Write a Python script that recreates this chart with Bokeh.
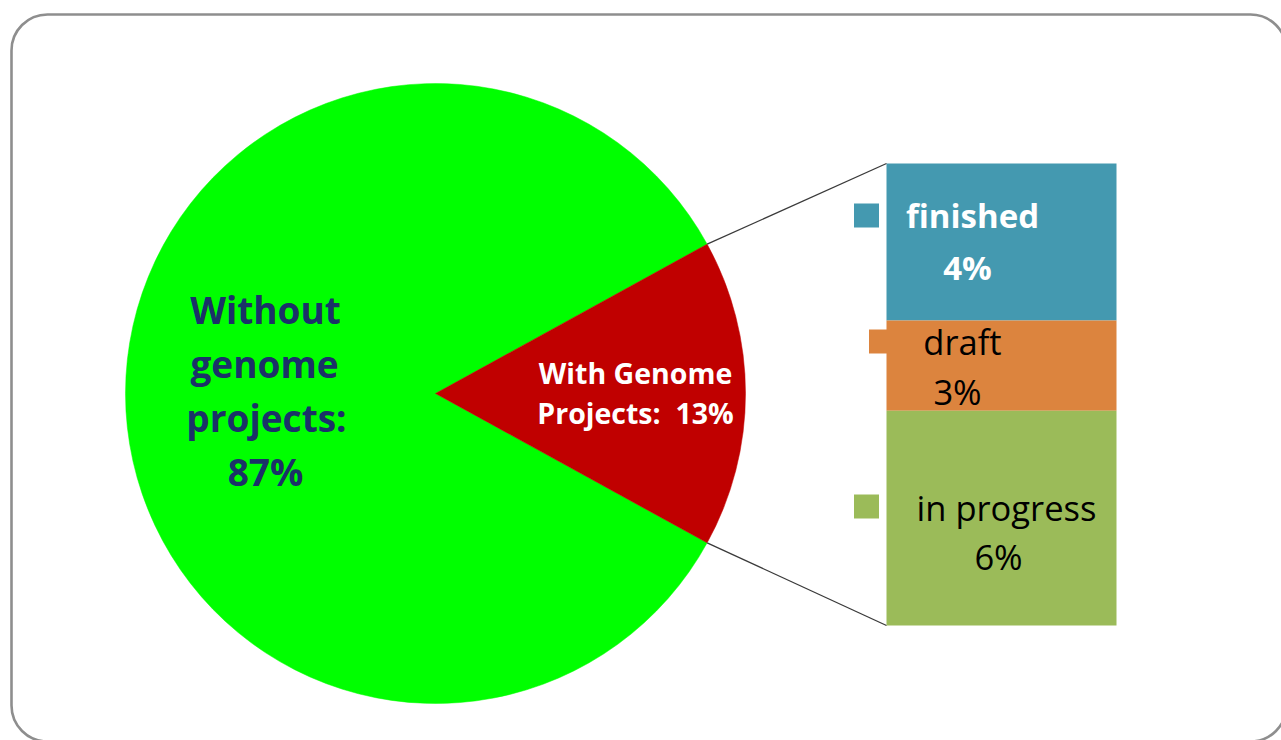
import math
from bokeh.plotting import figure
from bokeh.models import Range1d, ColumnDataSource, BoxAnnotation
from bokeh.core.properties import value
from bokeh.embed import file_html
from bokeh.resources import INLINE

# ---------------- data ----------------
pie_names = ["Without genome projects", "With Genome Projects"]
pie_share = [84, 16]                 # slice sizes as drawn
pie_colors = ["#00FF00", "#C00000"]
without_lines = ["Without", "genome", "projects:", "87%"]
with_lines = ["With Genome", "Projects:\u00a0\u00a013%"]

bar_names = ["finished", "draft", "in progress"]
bar_share = [34, 19.5, 46.5]         # share of the bar as drawn (top to bottom)
bar_pct = ["4%", "3%", "6%"]
bar_colors = ["#4499B0", "#DC843E", "#9BBB59"]

# ---------------- layout ----------------
W, H = 1281, 740
cx, cy, R = 435, 347, 310
bar_x, bar_w = 1001, 230
bar_px_bottom, bar_px_top = 115, 577

p = figure(width=W, height=H, x_range=Range1d(0, W), y_range=Range1d(0, H),
           output_backend="svg", toolbar_location=None, min_border=0,
           x_axis_location=None, y_axis_location=None,
           outline_line_color=None, background_fill_color="white",
           border_fill_color="white")
p.grid.visible = False

# outer rounded frame
p.add_layout(BoxAnnotation(left=11, right=1286, top=726, bottom=-1,
                           fill_alpha=0, line_color="#8e8e8e", line_alpha=1,
                           line_width=2.6, border_radius=36))

# ---------------- pie ----------------
total = float(sum(pie_share))
half = math.pi * pie_share[1] / total
starts = [half, -half]
ends = [2 * math.pi - half, half]
pie_src = ColumnDataSource(dict(name=pie_names, start=starts, end=ends, color=pie_colors))
p.wedge(x=cx, y=cy, radius=R, start_angle="start", end_angle="end",
        fill_color="color", line_color="color", line_width=0.5, source=pie_src)

# ---------------- bar ----------------
span = 100.0 / (bar_px_top - bar_px_bottom)
p.extra_y_ranges = {"bar": Range1d(-bar_px_bottom * span, (H - bar_px_bottom) * span)}
tops, bottoms = [], []
acc = 100.0
for s in bar_share:
    tops.append(acc)
    acc -= s
    bottoms.append(acc)

# legend keys (drawn behind the bar)
key_x = [866, 881, 866]
key_y = [525, 399, 234]
p.rect(x=key_x, y=key_y, width=25, height=24, fill_color=bar_colors, line_color=None)

bar_src = ColumnDataSource(dict(name=bar_names, top=tops, bottom=bottoms, color=bar_colors))
p.vbar(x=bar_x, width=bar_w, top="top", bottom="bottom", fill_color="color",
       line_color=None, y_range_name="bar", source=bar_src)

# connector lines from slice edges to bar corners
ex = cx + R * math.cos(half)
ey_up = cy + R * math.sin(half)
ey_dn = cy - R * math.sin(half)
bl = bar_x - bar_w / 2
p.segment(x0=[ex, ex], y0=[ey_up, ey_dn], x1=[bl, bl], y1=[bar_px_top, bar_px_bottom],
          line_color="#3a3a3a", line_width=1.3)

# ---------------- labels ----------------
FONT = value("Open Sans")
p.text(x=[265, 264, 266, 265], y=[431, 377, 323, 269], text=without_lines,
       text_font=FONT, text_font_style="bold", text_font_size="37px",
       text_color="#1B3168", text_align="center", text_baseline="alphabetic")
p.text(x=[635, 635], y=[368, 328], text=with_lines,
       text_font=FONT, text_font_style="bold", text_font_size="28.5px",
       text_color="white", text_align="center", text_baseline="alphabetic")

p.text(x=[972, 967], y=[525, 473], text=[bar_names[0], bar_pct[0]],
       text_font=FONT, text_font_style="bold", text_font_size="33px",
       text_color="white", text_align="center", text_baseline="alphabetic")
p.text(x=[962, 957, 1006, 998], y=[399, 349, 233, 184],
       text=[bar_names[1], bar_pct[1], bar_names[2], bar_pct[2]],
       text_font=FONT, text_font_size="34.5px",
       text_color="black", text_align="center", text_baseline="alphabetic")

open("out.html", "w").write(file_html(p, INLINE))
